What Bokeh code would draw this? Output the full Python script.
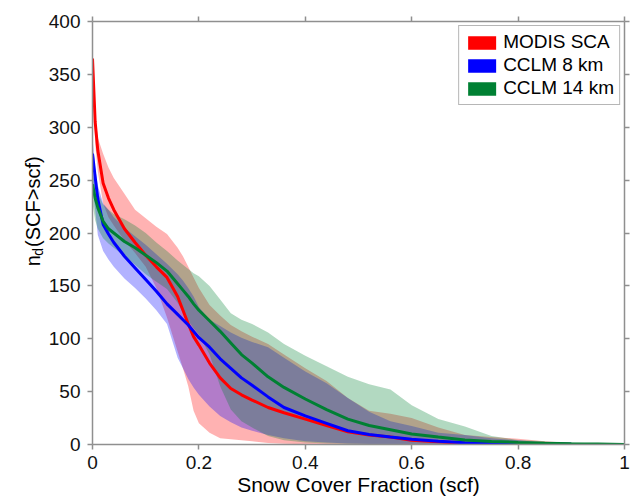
import math
from bokeh.plotting import figure
from bokeh.layouts import row
from bokeh.models import LinearAxis, FixedTicker, Range1d, Legend, LegendItem
from bokeh.core.properties import value
from bokeh.embed import file_html
from bokeh.resources import INLINE

# ---------------- data ----------------
scf = [0, 0.005, 0.01, 0.02, 0.03, 0.04, 0.06, 0.08, 0.10, 0.12, 0.14, 0.16, 0.17, 0.18,
       0.19, 0.20, 0.22, 0.24, 0.26, 0.28, 0.30, 0.33, 0.36, 0.40, 0.44, 0.48, 0.52, 0.56,
       0.60, 0.65, 0.70, 0.75, 0.80, 0.85, 0.90, 0.95, 1.00]

modis_mean = [365, 305, 278, 247, 233, 222, 204, 191, 179, 168, 158, 140, 127, 114,
              102, 94, 77, 63, 53, 47, 42, 35, 30, 24, 18, 12, 9, 7,
              4, 2.5, 1.2, 0.6, 0.3, 0.2, 0.1, 0.05, 0]
modis_upper = [365, 312, 290, 275, 262, 252, 237, 222, 214, 206, 199, 186, 178, 168,
               158, 148, 132, 122, 113, 107, 102, 95, 85, 72, 60, 44, 32, 29,
               25, 16, 9, 7, 5.5, 3, 1.5, 0.8, 0]
modis_lower = [345, 285, 258, 228, 215, 207, 193, 181, 168, 148, 120, 88, 72, 55,
               32, 20, 11, 6, 5, 4, 3, 1.5, 0.8, 0.3, 0, 0, 0, 0,
               0, 0, 0, 0, 0, 0, 0, 0, 0]

cclm8_mean = [275, 253, 232, 208, 199, 191, 178, 167, 156, 145, 133, 123, 118, 113,
              107, 101, 92, 81, 72, 63, 56, 45, 35, 27, 20, 13, 9.5, 7,
              5, 3, 1.6, 0.9, 0.5, 0.3, 0.15, 0.05, 0]
cclm8_upper = [290, 262, 245, 228, 222, 215, 205, 197, 189, 180, 171, 161, 155, 148,
               140, 130, 118, 112, 106, 101, 97, 92, 82, 69, 58, 44, 31, 22,
               17.5, 11, 9, 6, 4, 2, 1, 0.5, 0]
cclm8_lower = [245, 222, 198, 183, 175, 168, 157, 148, 138, 127, 114, 82, 72, 62,
               54, 47, 36, 27, 21, 16, 13, 9, 6, 3, 2, 1, 0.5, 0.2,
               0, 0, 0, 0, 0, 0, 0, 0, 0]

cclm14_mean = [246, 233, 224, 211, 204, 200, 192, 186, 179, 172, 164, 152, 146, 140,
               133, 127, 117, 107, 96, 85, 77, 64, 54, 43, 33, 24, 18, 14,
               10, 7, 4.3, 2.9, 2, 1.3, 0.8, 0.4, 0]
cclm14_upper = [258, 245, 238, 227, 222, 218, 213, 207, 200, 191, 183, 174, 170, 166,
                162, 159, 150, 137, 124, 118, 114, 106, 95, 84, 74, 64, 57, 52,
                37, 24, 17, 8, 4.2, 3, 2, 1, 0]
cclm14_lower = [228, 212, 204, 195, 190, 186, 178, 170, 161, 154, 147, 134, 125, 117,
                110, 104, 85, 55, 33, 22, 16, 8, 4, 2, 1, 0.5, 0.2, 0,
                0, 0, 0, 0, 0, 0, 0, 0, 0]

series_names = ["MODIS SCA", "CCLM 8 km", "CCLM 14 km"]
series_colors = ["#ff0000", "#0000ff", "#008033"]

x_ticks = [0, 0.2, 0.4, 0.6, 0.8, 1.0]
x_tick_labels = ["0", "0.2", "0.4", "0.6", "0.8", "1"]
y_ticks = [0, 50, 100, 150, 200, 250, 300, 350, 400]

x_title = "Snow Cover Fraction (scf)"
y_title_parts = ["n", "d", "(SCF>scf)"]

FONT = "Liberation Sans"
AXIS_COLOR = "#8f8f8f"

# ---------------- main figure ----------------
p = figure(width=585, height=501, output_backend="svg", toolbar_location=None,
           title=None, x_range=Range1d(0, 1), y_range=Range1d(0, 400),
           min_border_left=45, min_border_right=6, min_border_top=21, min_border_bottom=57)
p.background_fill_color = "white"
p.border_fill_color = "white"
p.outline_line_color = None
p.xgrid.visible = False
p.ygrid.visible = False

means = [modis_mean, cclm8_mean, cclm14_mean]
uppers = [modis_upper, cclm8_upper, cclm14_upper]
lowers = [modis_lower, cclm8_lower, cclm14_lower]

for up, lo, col in zip(uppers, lowers, series_colors):
    p.varea(x=scf, y1=lo, y2=up, fill_color=col, fill_alpha=0.3)

for m, col in zip(means, series_colors):
    p.line(x=scf, y=m, line_color=col, line_width=3)

# legend proxies (solid patches placed outside the visible range)
items = []
for name, col in zip(series_names, series_colors):
    r = p.varea(x=[5, 6], y1=[0, 0], y2=[1, 1], fill_color=col, fill_alpha=1.0)
    items.append(LegendItem(label=name, renderers=[r]))
legend = Legend(items=items, location="top_right")
legend.margin = 4
legend.padding = 5
legend.spacing = 1
legend.glyph_width = 35
legend.glyph_height = 17
legend.label_height = 17
legend.label_standoff = 4
legend.label_text_font = FONT
legend.label_text_font_size = "19px"
legend.label_text_color = "black"
legend.border_line_color = "#6e6e6e"
legend.border_line_width = 1
legend.background_fill_color = "white"
legend.background_fill_alpha = 1.0
p.add_layout(legend, "center")

def style_axis(ax):
    ax.axis_line_color = AXIS_COLOR
    ax.axis_line_width = 1.5
    ax.major_tick_line_color = AXIS_COLOR
    ax.major_tick_line_width = 1.5
    ax.major_tick_out = 5
    ax.major_tick_in = 0
    ax.minor_tick_line_color = None
    ax.major_label_text_font = FONT
    ax.major_label_text_color = "#111111"
    ax.major_label_text_font_size = "19px"

xa = p.xaxis[0]
ya = p.yaxis[0]
xa.ticker = FixedTicker(ticks=x_ticks)
xa.major_label_overrides = {t: s for t, s in zip(x_ticks, x_tick_labels)}
ya.ticker = FixedTicker(ticks=y_ticks)
style_axis(xa)
style_axis(ya)
xa.major_label_standoff = 6
ya.major_label_standoff = 7
xa.axis_label = x_title
xa.axis_label_text_font = FONT
xa.axis_label_text_font_size = "21px"
xa.axis_label_text_font_style = "normal"
xa.axis_label_text_color = "black"
xa.axis_label_standoff = 1

top = LinearAxis(ticker=FixedTicker(ticks=x_ticks))
right = LinearAxis(ticker=FixedTicker(ticks=y_ticks))
style_axis(top)
style_axis(right)
top.major_label_overrides = {t: "" for t in x_ticks}
right.major_label_overrides = {t: "" for t in y_ticks}
top.major_label_standoff = 0
right.major_label_standoff = 0
p.add_layout(top, "above")
p.add_layout(right, "right")

# ---------------- y title strip (pixel coordinates) ----------------
q = figure(width=45, height=501, output_backend="svg", toolbar_location=None,
           title=None, x_range=Range1d(0, 45), y_range=Range1d(0, 501),
           min_border=0, min_border_left=0, min_border_right=0,
           min_border_top=0, min_border_bottom=0)
q.axis.visible = False
q.grid.visible = False
q.outline_line_color = None
q.background_fill_color = "white"
q.border_fill_color = "white"

ang = math.pi / 2
q.text(x=[32], y=[211], text=[y_title_parts[0]], angle=ang, text_font=value(FONT),
       text_font_size="20px", text_align="left", text_baseline="alphabetic",
       text_color="black")
q.text(x=[37], y=[223.5], text=[y_title_parts[1]], angle=ang, text_font=value(FONT),
       text_font_size="14px", text_align="left", text_baseline="alphabetic",
       text_color="black")
q.text(x=[32], y=[234], text=[y_title_parts[2]], angle=ang, text_font=value(FONT),
       text_font_size="20px", text_align="left", text_baseline="alphabetic",
       text_color="black")

layout = row(q, p)
open("out.html", "w").write(file_html(layout, INLINE))
